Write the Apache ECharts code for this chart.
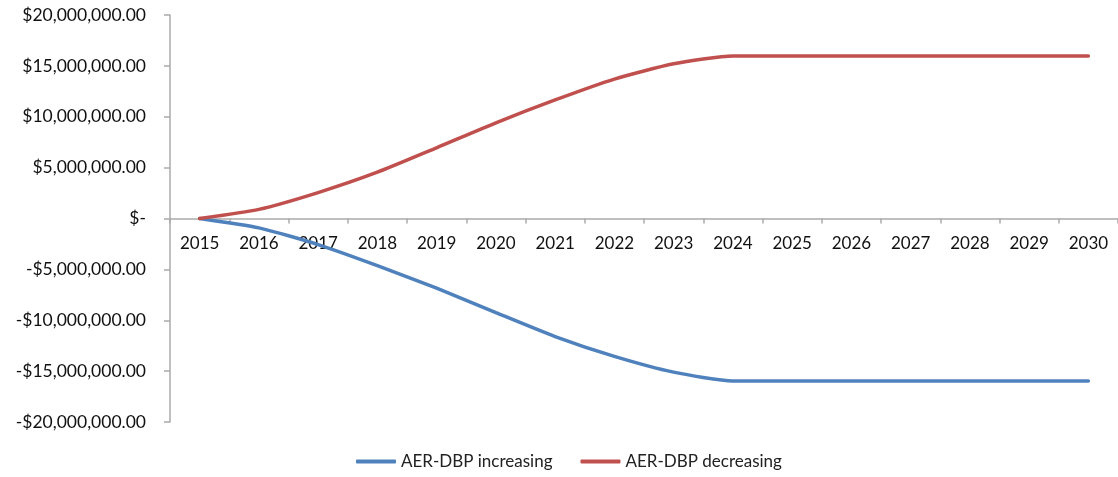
<!DOCTYPE html>
<html>
<head>
<meta charset="utf-8">
<script src="https://cdn.jsdelivr.net/npm/echarts@6/dist/echarts.min.js"></script>
<style>html,body{margin:0;padding:0;background:#fff;}#c{width:1118px;height:477px;}</style>
</head>
<body>
<div id="c"></div>
<script>
var years = ['2015','2016','2017','2018','2019','2020','2021','2022','2023','2024','2025','2026','2027','2028','2029','2030'];
var increasing = [0, -920000, -2560000, -4630000, -6850000, -9250000, -11600000, -13550000, -15100000, -15960000, -15960000, -15960000, -15960000, -15960000, -15960000, -15960000];
var decreasing = [0, 900000, 2550000, 4550000, 6950000, 9400000, 11650000, 13700000, 15200000, 15970000, 15970000, 15970000, 15970000, 15970000, 15970000, 15970000];
var seriesNames = ['AER-DBP increasing', 'AER-DBP decreasing'];

function fmt(v) {
  if (v === 0) return '$-';
  var s = Math.abs(v).toFixed(2).replace(/\B(?=(\d{3})+(?!\d))/g, ',');
  return (v < 0 ? '-$' : '$') + s;
}

var chart = echarts.init(document.getElementById('c'));
var font = 'Lato, "Open Sans", sans-serif';
chart.setOption({
  animation: false,
  grid: { left: 170, right: -7, top: 15, bottom: 55, containLabel: false },
  legend: {
    bottom: 2, left: 351,
    itemWidth: 40, itemHeight: 4, itemGap: 28,
    icon: 'roundRect',
    textStyle: { fontFamily: font, fontSize: 17, color: '#222' },
    data: seriesNames
  },
  xAxis: {
    type: 'category',
    data: years,
    boundaryGap: true,
    position: 'bottom',
    offset: -203.5,
    axisLine: { onZero: false, lineStyle: { color: '#aaaaaa', width: 1.5 } },
    axisTick: { show: true, length: 5, lineStyle: { color: '#aaaaaa', width: 1.5 } },
    axisLabel: { margin: 17, fontFamily: font, fontSize: 17, color: '#111' },
    splitLine: { show: false }
  },
  yAxis: {
    type: 'value',
    min: -20000000, max: 20000000, interval: 5000000,
    axisLine: { show: true, onZero: false, lineStyle: { color: '#aaaaaa', width: 1.5 } },
    axisTick: { show: true, length: 6, lineStyle: { color: '#aaaaaa', width: 1.5 } },
    axisLabel: { margin: 24, fontFamily: font, fontSize: 17.5, color: '#111', formatter: fmt },
    splitLine: { show: false }
  },
  series: [
    { name: seriesNames[0], type: 'line', data: increasing, smooth: 0.2, symbol: 'none',
      lineStyle: { color: '#4F81BD', width: 3.5, cap: 'round' }, itemStyle: { color: '#4F81BD' } },
    { name: seriesNames[1], type: 'line', data: decreasing, smooth: 0.2, symbol: 'none',
      lineStyle: { color: '#C0504D', width: 3.5, cap: 'round' }, itemStyle: { color: '#C0504D' } }
  ]
});
</script>
</body>
</html>
